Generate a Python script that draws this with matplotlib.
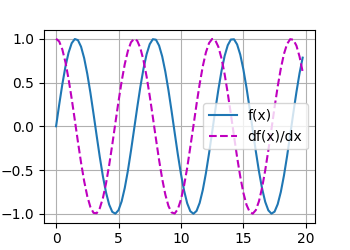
import matplotlib
matplotlib.use("Agg")
import matplotlib.pyplot as plt
import numpy as np

# sample positions along x (step 0.25)
x = np.arange(0, 20, 0.25)

f = [0.000, 0.247, 0.479, 0.682, 0.841, 0.949, 0.997, 0.984,
     0.909, 0.778, 0.598, 0.382, 0.141, -0.108, -0.351, -0.572,
     -0.757, -0.895, -0.978, -0.999, -0.959, -0.859, -0.706, -0.510,
     -0.279, -0.033, 0.215, 0.450, 0.657, 0.823, 0.938, 0.995,
     0.989, 0.922, 0.798, 0.624, 0.412, 0.174, -0.075, -0.320,
     -0.544, -0.734, -0.880, -0.971, -1.000, -0.968, -0.876, -0.729,
     -0.537, -0.311, -0.066, 0.183, 0.420, 0.632, 0.804, 0.926,
     0.991, 0.994, 0.935, 0.819, 0.650, 0.442, 0.207, -0.042,
     -0.288, -0.516, -0.712, -0.864, -0.961, -0.999, -0.976, -0.891,
     -0.751, -0.564, -0.343, -0.100, 0.150, 0.390, 0.606, 0.784]

df = [1.000, 0.969, 0.878, 0.732, 0.540, 0.315, 0.071, -0.178,
      -0.416, -0.628, -0.801, -0.924, -0.990, -0.994, -0.937, -0.821,
      -0.654, -0.446, -0.211, 0.038, 0.284, 0.512, 0.709, 0.860,
      0.960, 0.999, 0.977, 0.893, 0.754, 0.568, 0.347, 0.104,
      -0.146, -0.386, -0.602, -0.781, -0.911, -0.985, -0.997, -0.948,
      -0.839, -0.679, -0.476, -0.238, 0.004, 0.252, 0.483, 0.685,
      0.844, 0.950, 0.998, 0.983, 0.907, 0.775, 0.595, 0.377,
      0.137, -0.112, -0.355, -0.574, -0.760, -0.897, -0.978, -0.999,
      -0.958, -0.857, -0.702, -0.504, -0.275, -0.033, 0.217, 0.454,
      0.660, 0.826, 0.940, 0.995, 0.989, 0.921, 0.796, 0.621]

fig, ax = plt.subplots(figsize=(3.5, 2.5), dpi=100)
ax.plot(x, f, label='f(x)')
ax.plot(x, df, 'm--', label='df(x)/dx')
ax.grid(True)
ax.legend(loc='center right')
fig.savefig('out.png', dpi=100)
